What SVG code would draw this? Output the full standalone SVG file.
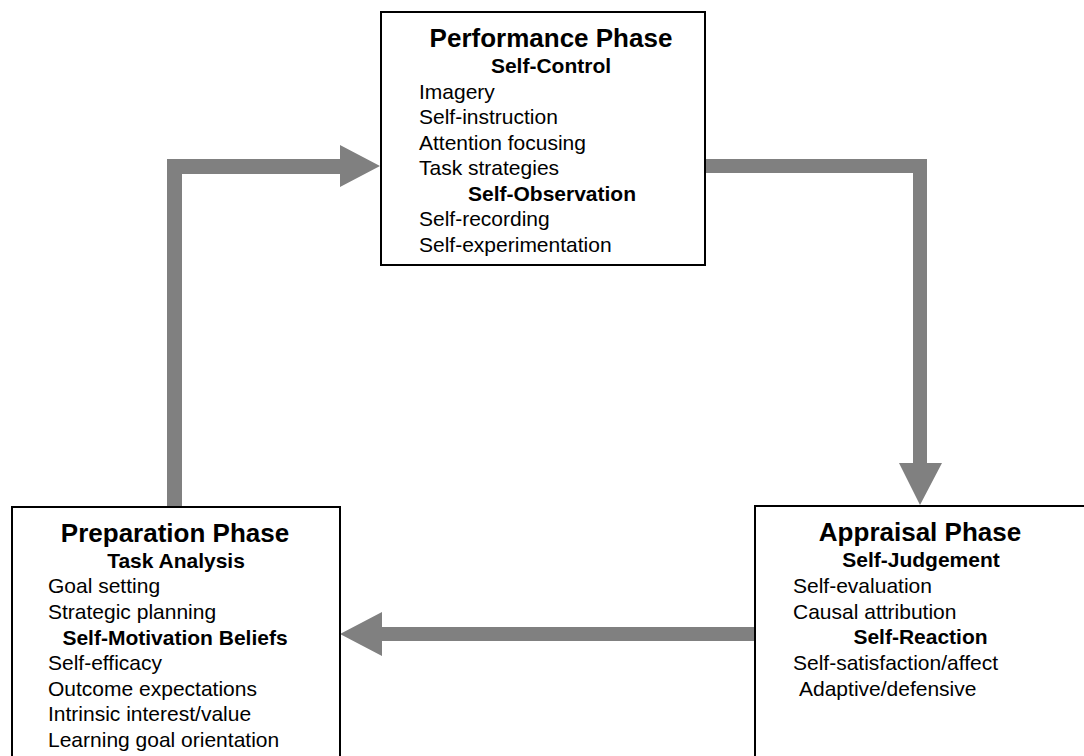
<svg xmlns="http://www.w3.org/2000/svg" width="1084" height="756" viewBox="0 0 1084 756">
  <style>
    .box { fill: #ffffff; stroke: #000000; stroke-width: 2; }
    .flow { fill: #808080; stroke: none; }
    text { font-family: "Liberation Sans", Arial, sans-serif; fill: #000000; }
    .title { font-size: 26px; font-weight: bold; text-anchor: middle; }
    .head { font-size: 21px; font-weight: bold; text-anchor: middle; }
    .item { font-size: 21px; }
  </style>
  <rect x="0" y="0" width="1084" height="756" fill="#ffffff"/>

  <!-- cycle arrows between the three phases -->
  <g id="connectors">
    <polygon class="flow" points="167,507 167,159 340,159 340,145 380,166 340,187 340,174 182,174 182,507"/>
    <polygon class="flow" points="705,159 927,159 927,463 942,463 920,505 899,463 913,463 913,173 705,173"/>
    <polygon class="flow" points="755,627 382,627 382,612 340,634 382,656 382,641 755,641"/>
  </g>

  <g id="performance">
    <rect class="box" x="381" y="12" width="324" height="253"/>
    <text class="title" x="551" y="47">Performance Phase</text>
    <text class="head" x="551" y="73">Self-Control</text>
    <text class="item" x="419" y="98.5">Imagery</text>
    <text class="item" x="419" y="124">Self-instruction</text>
    <text class="item" x="419" y="149.5">Attention focusing</text>
    <text class="item" x="419" y="175">Task strategies</text>
    <text class="head" x="552" y="200.5">Self-Observation</text>
    <text class="item" x="419" y="226">Self-recording</text>
    <text class="item" x="419" y="251.5">Self-experimentation</text>
  </g>

  <g id="preparation">
    <rect class="box" x="12" y="507" width="328" height="270"/>
    <text class="title" x="175" y="542">Preparation Phase</text>
    <text class="head" x="176" y="568">Task Analysis</text>
    <text class="item" x="48" y="593">Goal setting</text>
    <text class="item" x="48" y="618.5">Strategic planning</text>
    <text class="head" x="175" y="644.5">Self-Motivation Beliefs</text>
    <text class="item" x="48" y="670">Self-efficacy</text>
    <text class="item" x="48" y="695.5">Outcome expectations</text>
    <text class="item" x="48" y="721">Intrinsic interest/value</text>
    <text class="item" x="48" y="746.5">Learning goal orientation</text>
  </g>

  <g id="appraisal">
    <rect class="box" x="755" y="506" width="345" height="270"/>
    <text class="title" x="920" y="541">Appraisal Phase</text>
    <text class="head" x="921" y="567">Self-Judgement</text>
    <text class="item" x="793" y="593">Self-evaluation</text>
    <text class="item" x="793" y="618.5">Causal attribution</text>
    <text class="head" x="920.5" y="644">Self-Reaction</text>
    <text class="item" x="793" y="670">Self-satisfaction/affect</text>
    <text class="item" x="799" y="695.5">Adaptive/defensive</text>
  </g>
</svg>
